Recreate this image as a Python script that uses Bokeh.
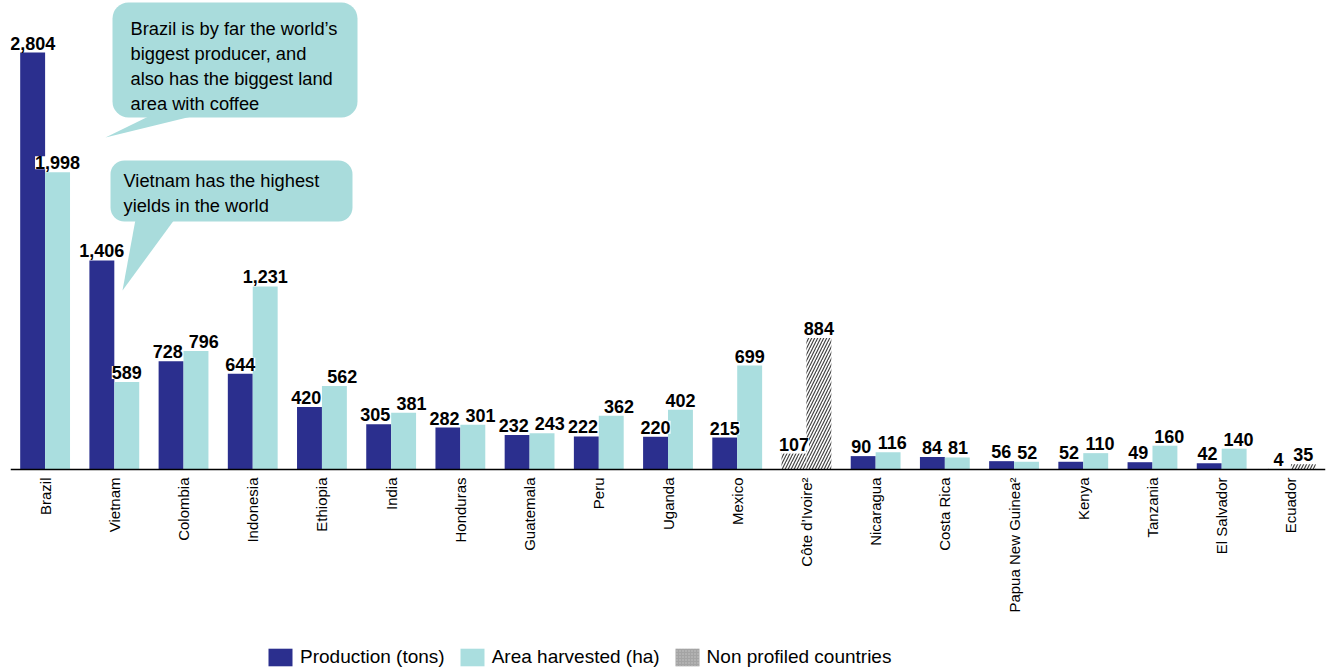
import math
from bokeh.plotting import figure
from bokeh.models import (ColumnDataSource, FactorRange, Range1d, BoxAnnotation,
                          PolyAnnotation, Label, Legend, LegendItem, Span)
from bokeh.transform import dodge
from bokeh.embed import file_html
from bokeh.resources import INLINE
from bokeh.core.properties import value

countries = ["Brazil", "Vietnam", "Colombia", "Indonesia", "Ethiopia", "India", "Honduras",
             "Guatemala", "Peru", "Uganda", "Mexico", "Côte d’Ivoire²", "Nicaragua",
             "Costa Rica", "Papua New Guinea²", "Kenya", "Tanzania", "El Salvador", "Ecuador"]
production = [2804, 1406, 728, 644, 420, 305, 282, 232, 222, 220, 215, 107, 90, 84, 56, 52, 49, 42, 4]
area = [1998, 589, 796, 1231, 562, 381, 301, 243, 362, 402, 699, 884, 116, 81, 52, 110, 160, 140, 35]
non_profiled = ["Côte d’Ivoire²", "Ecuador"]

PROD_COLOR = "#2b2f8e"
AREA_COLOR = "#aadedf"
BUB = "#a9dcdc"
FONT = "Liberation Sans"

W, H = 1326, 668
BASE = 469          # page y of the baseline
LEFT = 10           # page x of the frame's left edge
PX_PER_UNIT = 417 / 2804
YTOP = BASE / PX_PER_UNIT
YBOT = -(H - BASE) / PX_PER_UNIT
PITCH = (W - LEFT - 1) / len(countries)

p = figure(width=W, height=H, output_backend="svg", toolbar_location=None,
           x_range=FactorRange(factors=countries, range_padding=0, factor_padding=0),
           y_range=Range1d(YBOT, YTOP), x_axis_type=None, y_axis_type=None,
           min_border_left=LEFT, min_border_right=1, min_border_top=0, min_border_bottom=0)
p.outline_line_color = None
p.grid.visible = False
p.background_fill_color = "white"
p.border_fill_color = "white"

prof_idx = [i for i, c in enumerate(countries) if c not in non_profiled]
np_idx = [i for i, c in enumerate(countries) if c in non_profiled]

src_prof = ColumnDataSource(dict(country=[countries[i] for i in prof_idx],
                                 production=[production[i] for i in prof_idx],
                                 area=[area[i] for i in prof_idx]))
src_np = ColumnDataSource(dict(country=[countries[i] for i in np_idx],
                               production=[production[i] for i in np_idx],
                               area=[area[i] for i in np_idx]))

BW = 0.36
OFF = 0.18
r_prod = p.vbar(x=dodge("country", -OFF, range=p.x_range), top="production", width=BW,
                source=src_prof, fill_color=PROD_COLOR, line_color=None)
r_area = p.vbar(x=dodge("country", OFF, range=p.x_range), top="area", width=BW,
                source=src_prof, fill_color=AREA_COLOR, line_color=None)
hatch_kw = dict(fill_color="white", line_color=None, hatch_pattern="/", hatch_color="#444444",
                hatch_scale=6, hatch_weight=1.2)
p.vbar(x=dodge("country", -OFF, range=p.x_range), top="production", width=BW, source=src_np, **hatch_kw)
p.vbar(x=dodge("country", OFF, range=p.x_range), top="area", width=BW, source=src_np, **hatch_kw)

# category axis: baseline + vertical country labels
p.add_layout(Span(location=0, dimension="width", line_color="black", line_width=1.5))
p.text(x="country", y=0, text="country", source=ColumnDataSource(dict(country=countries)),
       angle=math.pi / 2, text_align="right", text_baseline="middle", y_offset=8,
       text_font=value(FONT), text_font_size="15px", text_color="black")

# value labels, nudged apart where a pair would collide
LAB_PX = 18
def lab(v):
    return f"{v:,}"
def lab_w(s):
    return sum(0.278 if ch == "," else 0.556 for ch in s) * LAB_PX
sep = 2 * OFF * PITCH
p_dx, a_dx = [], []
for pv, av in zip(production, area):
    need = (lab_w(lab(pv)) + lab_w(lab(av))) / 2 + 6
    vclash = abs(pv - av) * PX_PER_UNIT < LAB_PX + 4
    ov = max(0.0, need - sep) if vclash else 0.0
    p_dx.append(-0.3 * ov)
    a_dx.append(0.7 * ov)

lab_kw = dict(text_align="center", text_baseline="bottom", y_offset=-3,
              text_font=value(FONT), text_font_size=f"{LAB_PX}px", text_font_style="bold",
              text_color="black", background_fill_color="white")
p.text(x=dodge("country", -OFF, range=p.x_range), y="production", text="pt", x_offset="dx",
       source=ColumnDataSource(dict(country=countries, production=production,
                                    pt=[lab(v) for v in production], dx=p_dx)), **lab_kw)
p.text(x=dodge("country", OFF, range=p.x_range), y="area", text="at", x_offset="dx",
       source=ColumnDataSource(dict(country=countries, area=area,
                                    at=[lab(v) for v in area], dx=a_dx)), **lab_kw)

# --- callouts (page pixel -> data coordinate helpers)
def dx(px):
    return (px - LEFT) / PITCH
def dy(py):
    return (BASE - py) / PX_PER_UNIT

p.add_layout(BoxAnnotation(left=dx(112), right=dx(357), top=dy(2), bottom=dy(117),
                           fill_color=BUB, fill_alpha=1, line_color=None, border_radius=16,
                           level="underlay"))
p.add_layout(PolyAnnotation(xs=[dx(105), dx(150), dx(195)], ys=[dy(137), dy(115), dy(115)],
                            fill_color=BUB, fill_alpha=1, line_color=None, level="underlay"))
p.add_layout(Label(x=dx(130), y=dy(17), text="Brazil is by far the world’s\nbiggest producer, and\nalso has the biggest land\narea with coffee",
                   text_font=FONT, text_font_size="18.3px", text_baseline="top", text_align="left",
                   text_line_height=1.2, text_color="black"))

p.add_layout(BoxAnnotation(left=dx(110), right=dx(352), top=dy(160), bottom=dy(221),
                           fill_color=BUB, fill_alpha=1, line_color=None, border_radius=14,
                           level="underlay"))
p.add_layout(PolyAnnotation(xs=[dx(122), dx(135), dx(174)], ys=[dy(290), dy(219), dy(219)],
                            fill_color=BUB, fill_alpha=1, line_color=None, level="underlay"))
p.add_layout(Label(x=dx(123), y=dy(169), text="Vietnam has the highest\nyields in the world",
                   text_font=FONT, text_font_size="18.3px", text_baseline="top", text_align="left",
                   text_line_height=1.2, text_color="black"))

# legend (zero-height stand-in bars carry the grey swatch style)
r_np_leg = p.vbar(x=dodge("country", 0, range=p.x_range), top=0, bottom=0, width=BW,
                  source=src_np, fill_color="#a4a4a4", line_color=None,
                  hatch_pattern=".", hatch_color="#c8c8c8", hatch_scale=3)
legend = Legend(items=[LegendItem(label="Production (tons)", renderers=[r_prod]),
                       LegendItem(label="Area harvested (ha)", renderers=[r_area]),
                       LegendItem(label="Non profiled countries", renderers=[r_np_leg])],
                orientation="horizontal", location=(255, 0),
                glyph_width=30, glyph_height=22, label_standoff=5, spacing=12,
                padding=0, margin=0, border_line_color=None, background_fill_alpha=0,
                label_text_font=FONT, label_text_font_size="19px", label_text_color="black")
p.add_layout(legend)

open("out.html", "w").write(file_html(p, INLINE))
